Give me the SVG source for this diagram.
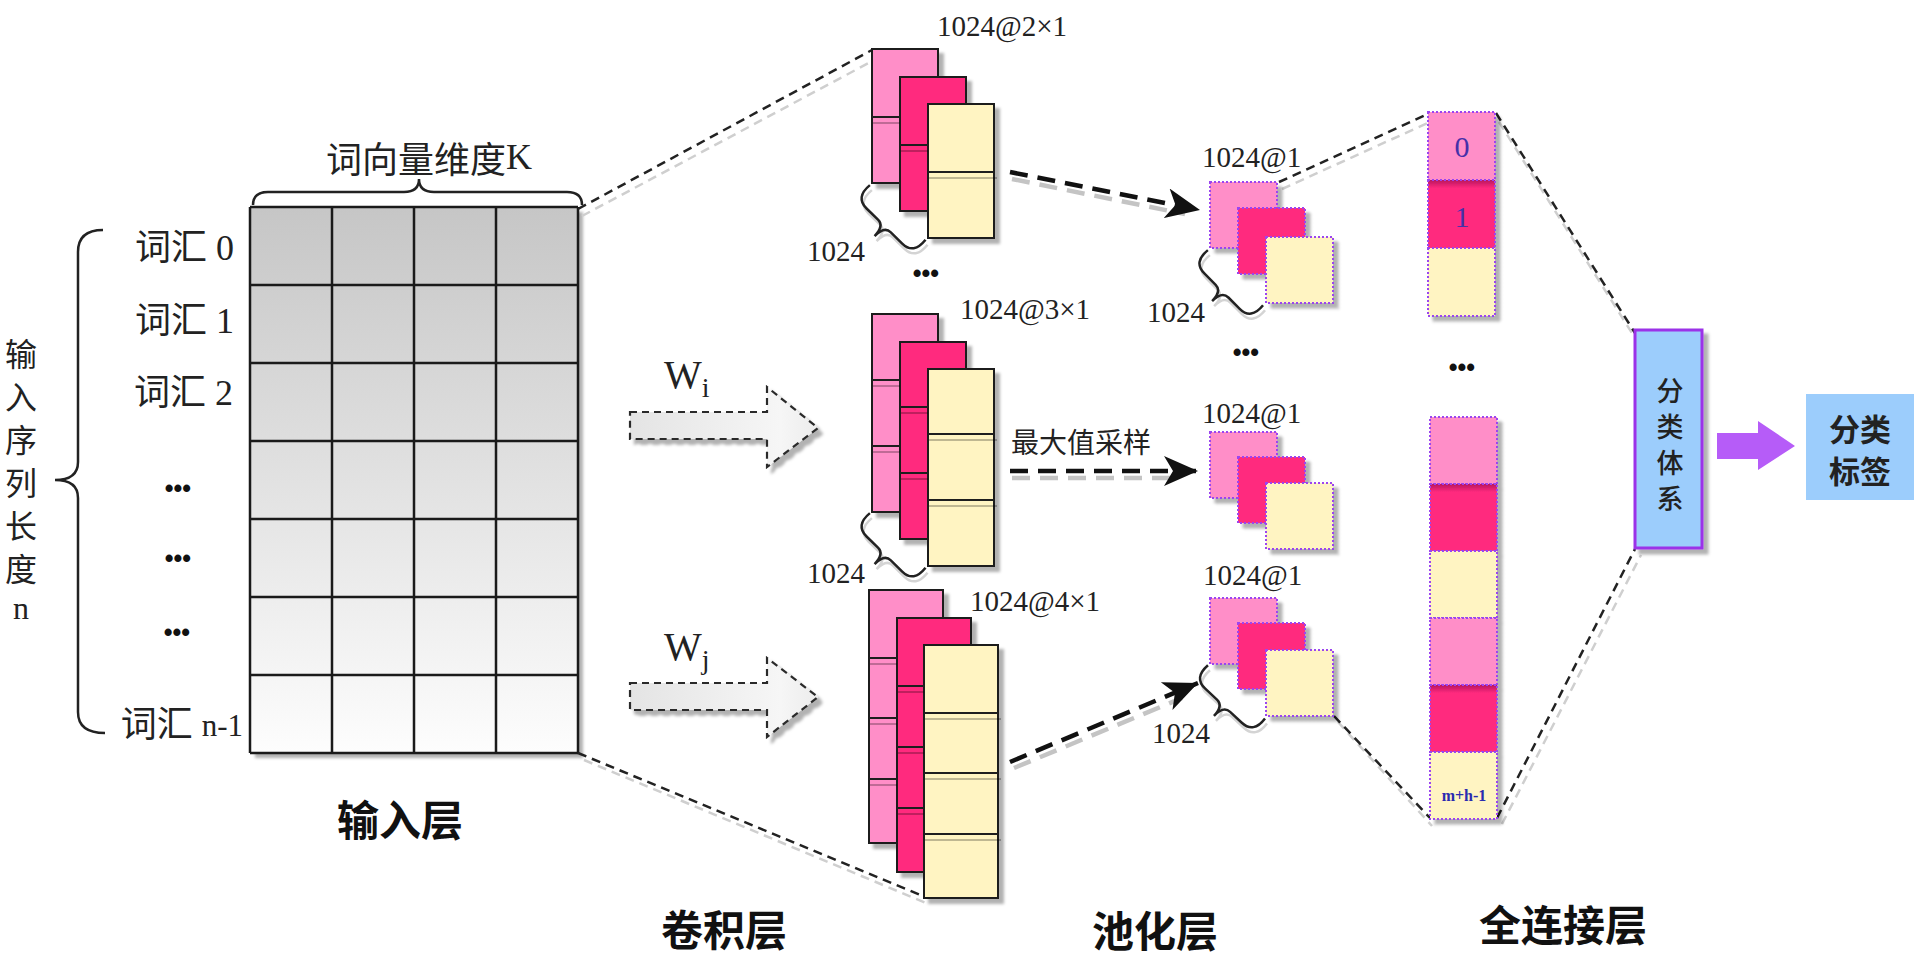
<svg xmlns="http://www.w3.org/2000/svg" width="1922" height="958" viewBox="0 0 1922 958">
<style>
.cjk{font-family:"Noto Sans CJK SC",sans-serif;fill:#222;dominant-baseline:central}
.lbl{font-family:"Liberation Serif","Noto Sans CJK SC",serif;font-size:36px;fill:#222;dominant-baseline:central}
.num{font-family:"Liberation Serif",serif;font-size:29px;fill:#222;dominant-baseline:central}
.title{font-family:"Noto Sans CJK SC",sans-serif;font-weight:700;font-size:42px;fill:#111;text-anchor:middle;dominant-baseline:central}
.bul{font-family:"Liberation Sans",sans-serif;font-size:25px;font-weight:700;fill:#111;text-anchor:middle;dominant-baseline:central}
.grid{stroke:#1a1a1a;stroke-width:2.5}
.pk{fill:#ff8ec8}.mg{fill:#ff2a7e}.yl{fill:#fff4c2}.mgd{fill:url(#mgtop)}
.cell{stroke:#1e1e1e;stroke-width:2}
.dot{stroke:#9b45f0;stroke-width:2;stroke-dasharray:2 2}
.div{stroke:#1e1e1e;stroke-width:2}
.divs{stroke:#000;stroke-opacity:0.25;stroke-width:2}
.thin{stroke:#222;stroke-width:2.5;stroke-dasharray:9 6;fill:none}
.thins{stroke:#cfcfcf;stroke-width:2.5;stroke-dasharray:9 6;fill:none}
.thick{stroke:#111;stroke-width:4.5;stroke-dasharray:18 10;fill:none}
.thicks{stroke:#c4c4c4;stroke-width:4.5;stroke-dasharray:18 10;fill:none}
.brace{stroke:#222;stroke-width:2.5;fill:none}
.braces{stroke:#d4d4d4;stroke-width:2.5;fill:none}
.blk{fill:url(#bgrad);stroke:#2a2a2a;stroke-width:2.2;stroke-dasharray:7 5}
.fcn{font-family:"Liberation Serif",serif;font-size:30px;fill:#4630a8;text-anchor:middle;dominant-baseline:central}
</style>
<defs>
<linearGradient id="mgrad" x1="0" y1="0" x2="0" y2="1">
<stop offset="0" stop-color="#c6c6c6"/><stop offset="1" stop-color="#fdfdfd"/>
</linearGradient>
<linearGradient id="bgrad" x1="0" y1="0" x2="1" y2="0">
<stop offset="0" stop-color="#e4e4e4"/><stop offset="0.8" stop-color="#f6f6f6"/><stop offset="1" stop-color="#ececec"/>
</linearGradient>
<linearGradient id="mgtop" x1="0" y1="0" x2="0" y2="1">
<stop offset="0" stop-color="#b8165e"/><stop offset="0.12" stop-color="#ff2a7e"/><stop offset="1" stop-color="#ff2a7e"/>
</linearGradient>
<filter id="sh" x="-20%" y="-20%" width="150%" height="150%">
<feDropShadow dx="5" dy="5" stdDeviation="1.5" flood-color="#000" flood-opacity="0.3"/>
</filter>
<marker id="ah" markerUnits="userSpaceOnUse" markerWidth="36" markerHeight="32" viewBox="0 0 36 32" refX="34" refY="16" orient="auto">
<path d="M0,1 L34,16 L0,31 L9,16 Z" fill="#111"/>
</marker>
<path id="br" d="M0,3 Q-2,22 14,22 L30,22 Q39,22 39,36 Q39,22 48,22 L64,22 Q80,22 78,3"/>
</defs>

<!-- input layer -->
<g id="input-layer">
<text class="cjk" font-size="36" x="429" y="157" text-anchor="middle"><tspan>词向量维度</tspan><tspan font-family="Liberation Serif">K</tspan></text>
<path class="brace" d="M253,205 Q253,192 268,192 L404,192 Q419,192 419,179 Q419,192 434,192 L567,192 Q582,192 582,205"/>
<rect x="250" y="207" width="328" height="546" fill="url(#mgrad)" filter="url(#sh)"/>
<g class="grid">
<line x1="250" y1="207" x2="250" y2="753"/><line x1="332" y1="207" x2="332" y2="753"/><line x1="414" y1="207" x2="414" y2="753"/><line x1="496" y1="207" x2="496" y2="753"/><line x1="578" y1="207" x2="578" y2="753"/>
<line x1="250" y1="207" x2="578" y2="207"/><line x1="250" y1="285" x2="578" y2="285"/><line x1="250" y1="363" x2="578" y2="363"/><line x1="250" y1="441" x2="578" y2="441"/><line x1="250" y1="519" x2="578" y2="519"/><line x1="250" y1="597" x2="578" y2="597"/><line x1="250" y1="675" x2="578" y2="675"/><line x1="250" y1="753" x2="578" y2="753"/>
</g>
<text class="lbl" x="234" y="248" text-anchor="end">词汇 0</text>
<text class="lbl" x="234" y="321" text-anchor="end">词汇 1</text>
<text class="lbl" x="233" y="393" text-anchor="end">词汇 2</text>
<text class="bul" x="178" y="488">•••</text>
<text class="bul" x="178" y="558">•••</text>
<text class="bul" x="177" y="632">•••</text>
<text class="lbl" x="243" y="725" text-anchor="end">词汇 <tspan font-size="31">n-1</tspan></text>
<path class="brace" d="M103,230 Q78,230 78,252 L78,462 Q78,480 55,480 Q78,480 78,498 L78,712 Q78,733 105,733"/>
<text class="cjk" font-size="32" text-anchor="middle"><tspan x="21" y="352">输</tspan><tspan x="21" y="395">入</tspan><tspan x="21" y="438">序</tspan><tspan x="21" y="481">列</tspan><tspan x="21" y="524">长</tspan><tspan x="21" y="567">度</tspan><tspan x="21" y="608" font-family="Liberation Serif">n</tspan></text>
<text class="title" x="400" y="817">输入层</text>
</g>

<!-- connectors -->
<g id="connectors">
<line class="thins" x1="582" y1="216" x2="878" y2="58"/>
<line class="thin" x1="578" y1="209" x2="872" y2="50"/>
<line class="thins" x1="584" y1="760" x2="926" y2="903"/>
<line class="thin" x1="578" y1="753" x2="923" y2="896"/>
<line class="thins" x1="1282" y1="189" x2="1430" y2="122"/>
<line class="thin" x1="1279" y1="182" x2="1428" y2="114"/>
<line class="thins" x1="1338" y1="722" x2="1432" y2="826"/>
<line class="thin" x1="1334" y1="716" x2="1430" y2="818"/>
<line class="thins" x1="1499" y1="122" x2="1637" y2="341"/>
<line class="thin" x1="1496" y1="113" x2="1635" y2="333"/>
<line class="thins" x1="1502" y1="824" x2="1641" y2="555"/>
<line class="thin" x1="1497" y1="818" x2="1635" y2="549"/>
<line class="thicks" x1="1012" y1="179" x2="1185" y2="214"/>
<line class="thick" x1="1010" y1="172" x2="1200" y2="210" marker-end="url(#ah)"/>
<line class="thicks" x1="1012" y1="478" x2="1180" y2="478"/>
<line class="thick" x1="1010" y1="471" x2="1198" y2="471" marker-end="url(#ah)"/>
<line class="thicks" x1="1014" y1="768" x2="1182" y2="698"/>
<line class="thick" x1="1010" y1="762" x2="1198" y2="683" marker-end="url(#ah)"/>
<path d="M1717,433 L1758,433 L1758,421 L1795,446 L1758,470 L1758,459 L1717,459 Z" fill="#b65cf8"/>
</g>

<!-- weight arrows -->
<g id="arrow-wi">
<path class="blk" filter="url(#sh)" d="M630,412 L767,412 L767,387 L818,428 L767,467 L767,439 L630,439 Z"/>
<text font-family="Liberation Serif" font-size="40" fill="#222" x="664" y="388">W<tspan font-size="28" dy="9">i</tspan></text>
</g>
<g id="arrow-wj">
<path class="blk" filter="url(#sh)" d="M630,683 L767,683 L767,658 L818,697 L767,737 L767,710 L630,710 Z"/>
<text font-family="Liberation Serif" font-size="40" fill="#222" x="664" y="660">W<tspan font-size="28" dy="9">j</tspan></text>
</g>

<!-- convolution layer -->
<g id="conv-1">
<g filter="url(#sh)">
<rect class="pk cell" x="872" y="49" width="66" height="134"/>
<rect class="mg cell" x="900" y="77" width="66" height="134"/>
<rect class="yl cell" x="928" y="104" width="66" height="134"/>
</g>
<line class="divs" x1="873" y1="123" x2="900" y2="123"/><line class="div" x1="872" y1="117" x2="900" y2="117"/>
<line class="divs" x1="901" y1="151" x2="928" y2="151"/><line class="div" x1="900" y1="145" x2="928" y2="145"/>
<line class="divs" x1="929" y1="178" x2="997" y2="178"/><line class="div" x1="928" y1="172" x2="994" y2="172"/>
<use href="#br" class="braces" transform="translate(874,188) rotate(44.5)"/>
<use href="#br" class="brace" transform="translate(872,183) rotate(44.5)"/>
<text class="num" x="865" y="251" text-anchor="end">1024</text>
<text class="num" x="937" y="26">1024@2×1</text>
<text class="bul" x="926" y="273" font-size="28">•••</text>
</g>
<g id="conv-2">
<g filter="url(#sh)">
<rect class="pk cell" x="872" y="314" width="66" height="198"/>
<rect class="mg cell" x="900" y="342" width="66" height="197"/>
<rect class="yl cell" x="928" y="369" width="66" height="197"/>
</g>
<line class="divs" x1="873" y1="386" x2="900" y2="386"/><line class="div" x1="872" y1="380" x2="900" y2="380"/>
<line class="divs" x1="873" y1="452" x2="900" y2="452"/><line class="div" x1="872" y1="446" x2="900" y2="446"/>
<line class="divs" x1="901" y1="413" x2="928" y2="413"/><line class="div" x1="900" y1="407" x2="928" y2="407"/>
<line class="divs" x1="901" y1="479" x2="928" y2="479"/><line class="div" x1="900" y1="473" x2="928" y2="473"/>
<line class="divs" x1="929" y1="440" x2="997" y2="440"/><line class="div" x1="928" y1="434" x2="994" y2="434"/>
<line class="divs" x1="929" y1="506" x2="997" y2="506"/><line class="div" x1="928" y1="500" x2="994" y2="500"/>
<use href="#br" class="braces" transform="translate(874,516) rotate(44.5)"/>
<use href="#br" class="brace" transform="translate(872,511) rotate(44.5)"/>
<text class="num" x="865" y="573" text-anchor="end">1024</text>
<text class="num" x="960" y="309">1024@3×1</text>
</g>
<g id="conv-3">
<g filter="url(#sh)">
<rect class="pk cell" x="869" y="590" width="74" height="253"/>
<rect class="mg cell" x="897" y="618" width="74" height="254"/>
<rect class="yl cell" x="924" y="645" width="74" height="253"/>
</g>
<line class="divs" x1="870" y1="664" x2="897" y2="664"/><line class="div" x1="869" y1="658" x2="897" y2="658"/>
<line class="divs" x1="870" y1="724" x2="897" y2="724"/><line class="div" x1="869" y1="718" x2="897" y2="718"/>
<line class="divs" x1="870" y1="785" x2="897" y2="785"/><line class="div" x1="869" y1="779" x2="897" y2="779"/>
<line class="divs" x1="898" y1="692" x2="924" y2="692"/><line class="div" x1="897" y1="686" x2="924" y2="686"/>
<line class="divs" x1="898" y1="753" x2="924" y2="753"/><line class="div" x1="897" y1="747" x2="924" y2="747"/>
<line class="divs" x1="898" y1="814" x2="924" y2="814"/><line class="div" x1="897" y1="808" x2="924" y2="808"/>
<line class="divs" x1="925" y1="719" x2="1001" y2="719"/><line class="div" x1="924" y1="713" x2="998" y2="713"/>
<line class="divs" x1="925" y1="779" x2="1001" y2="779"/><line class="div" x1="924" y1="773" x2="998" y2="773"/>
<line class="divs" x1="925" y1="840" x2="1001" y2="840"/><line class="div" x1="924" y1="834" x2="998" y2="834"/>
<text class="num" x="970" y="601">1024@4×1</text>
</g>
<text class="title" x="724" y="927">卷积层</text>

<!-- pooling layer -->
<g id="pool-1">
<g filter="url(#sh)">
<rect class="pk dot" x="1210" y="182" width="67" height="66"/>
<rect class="mg dot" x="1238" y="208" width="67" height="66"/>
<rect class="yl dot" x="1266" y="237" width="67" height="66"/>
</g>
<use href="#br" class="braces" transform="translate(1212,253) rotate(45)"/>
<use href="#br" class="brace" transform="translate(1210,248) rotate(45)"/>
<text class="num" x="1205" y="312" text-anchor="end">1024</text>
<text class="num" x="1202" y="157">1024@1</text>
<text class="bul" x="1246" y="352">•••</text>
</g>
<g id="pool-2">
<g filter="url(#sh)">
<rect class="pk dot" x="1210" y="432" width="67" height="66"/>
<rect class="mg dot" x="1238" y="457" width="67" height="66"/>
<rect class="yl dot" x="1266" y="483" width="67" height="66"/>
</g>
<text class="num" x="1202" y="413">1024@1</text>
<text class="cjk" font-size="28" x="1011" y="441">最大值采样</text>
</g>
<g id="pool-3">
<g filter="url(#sh)">
<rect class="pk dot" x="1210" y="598" width="67" height="66"/>
<rect class="mg dot" x="1238" y="623" width="67" height="66"/>
<rect class="yl dot" x="1266" y="650" width="67" height="66"/>
</g>
<use href="#br" class="braces" transform="translate(1212,668) rotate(43)"/>
<use href="#br" class="brace" transform="translate(1210,663) rotate(43)"/>
<text class="num" x="1210" y="733" text-anchor="end">1024</text>
<text class="num" x="1203" y="575">1024@1</text>
</g>
<text class="title" x="1155" y="928">池化层</text>

<!-- fully connected layer -->
<g id="fc-top">
<g filter="url(#sh)">
<rect class="pk dot" x="1428" y="112" width="67" height="68"/>
<rect class="mgd dot" x="1428" y="180" width="67" height="68"/>
<rect class="yl dot" x="1428" y="248" width="67" height="68"/>
</g>
<text class="fcn" x="1462" y="146">0</text>
<text class="fcn" x="1462" y="216">1</text>
</g>
<text class="bul" x="1462" y="367" font-size="28">•••</text>
<g id="fc-bottom">
<g filter="url(#sh)">
<rect class="pk dot" x="1430" y="417" width="67" height="67"/>
<rect class="mgd dot" x="1430" y="484" width="67" height="67"/>
<rect class="yl dot" x="1430" y="551" width="67" height="67"/>
<rect class="pk dot" x="1430" y="618" width="67" height="67"/>
<rect class="mgd dot" x="1430" y="685" width="67" height="67"/>
<rect class="yl dot" x="1430" y="752" width="67" height="67"/>
</g>
<text x="1464" y="795" text-anchor="middle" font-family="Liberation Serif" font-weight="700" font-size="16" fill="#2a2ab0" dominant-baseline="central">m+h-1</text>
</g>
<text class="title" x="1563" y="922" font-size="43">全连接层</text>

<!-- classifier -->
<g id="classifier">
<rect x="1635" y="330" width="67" height="218" fill="#9ccdfc" stroke="#9b30e8" stroke-width="3" filter="url(#sh)"/>
<text class="cjk" font-size="27" font-weight="500" text-anchor="middle" x="1670" y="389">分</text>
<text class="cjk" font-size="27" font-weight="500" text-anchor="middle" x="1670" y="425">类</text>
<text class="cjk" font-size="27" font-weight="500" text-anchor="middle" x="1670" y="461">体</text>
<text class="cjk" font-size="27" font-weight="500" text-anchor="middle" x="1670" y="497">系</text>
</g>
<g id="label">
<rect x="1806" y="394" width="108" height="106" fill="#9ccdfc"/>
<text class="cjk" font-size="31" font-weight="700" text-anchor="middle" x="1860" y="427">分类</text>
<text class="cjk" font-size="31" font-weight="700" text-anchor="middle" x="1860" y="469">标签</text>
</g>
</svg>
